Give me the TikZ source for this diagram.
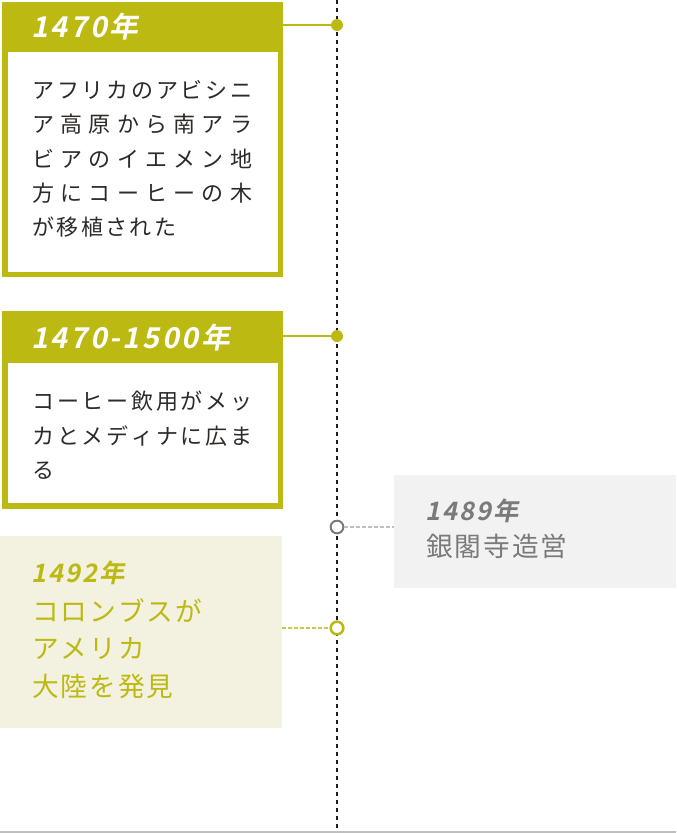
\documentclass[tikz,border=0pt]{standalone}
\usepackage{fontspec}

% Japanese fonts
\newfontfamily\jpfont{Noto Sans CJK JP}
\newfontfamily\jphead[FakeSlant=0.2]{Noto Sans CJK JP Bold}

% Colours
\definecolor{olive}{RGB}{189,185,19}
\definecolor{palefill}{RGB}{243,241,224}
\definecolor{grayfill}{RGB}{242,242,242}
\definecolor{graytext}{RGB}{122,122,122}
\definecolor{ink}{RGB}{45,42,40}
\definecolor{tlinecol}{RGB}{30,30,30}
\definecolor{rulecol}{RGB}{190,190,190}

% Letter spacing between Japanese characters and digits
\newXeTeXintercharclass\jpclass
\newdimen\jpgap
\newcount\jpc
\XeTeXinterchartokenstate=1
\jpc="3041
\loop\XeTeXcharclass\jpc=\jpclass\ifnum\jpc<"30FF\advance\jpc by 1\repeat
\jpc="4E00
\loop\XeTeXcharclass\jpc=\jpclass\ifnum\jpc<"9FFF\advance\jpc by 1\repeat
\jpc=`0
\loop\XeTeXcharclass\jpc=\jpclass\ifnum\jpc<`9\advance\jpc by 1\repeat
\XeTeXcharclass`\-=\jpclass
\XeTeXinterchartoks\jpclass\jpclass={\nobreak\hskip\jpgap plus 3pt\relax}

\tikzset{
  timeline/.style={draw=tlinecol, line width=1.5pt, dash pattern=on 3pt off 3pt},
  bottomrule/.style={draw=rulecol, line width=1.2pt},
  block/.style={anchor=north west, inner sep=0pt, outer sep=0pt},
  headtxt/.style={anchor=west, inner sep=0pt, text=white,
    font=\jphead\fontsize{21.5pt}{25pt}\selectfont\setlength{\jpgap}{2pt}},
  bodytxt/.style={anchor=north west, inner sep=0pt, text=ink, text width=165pt, align=justify,
    font=\jpfont\fontsize{16.5pt}{25.8pt}\selectfont\setlength{\jpgap}{1.8pt}},
  softhead/.style={anchor=west, inner sep=0pt,
    font=\jphead\fontsize{19pt}{25pt}\selectfont\setlength{\jpgap}{1.5pt}},
  softtxt/.style={anchor=north west, inner sep=0pt, align=left,
    font=\jpfont\fontsize{20pt}{28.2pt}\selectfont\setlength{\jpgap}{1.5pt}},
  dotfull/.style={circle, fill=olive, minimum size=9pt, inner sep=0pt},
  dotring/.style={circle, fill=white, minimum size=9.5pt, inner sep=0pt},
  olink/.style={draw=olive, line width=1.5pt},
}

\begin{document}
\begin{tikzpicture}[x=0.75pt,y=-0.75pt]
    \useasboundingbox (0,0) rectangle (676,833);

    % Define the ends of the timeline
    \coordinate (T) at (337,0);
    \coordinate (B) at (337,830);
    \draw[timeline] (T) -- (B);

    % Bottom rule
    \coordinate (L) at (0,832);
    \coordinate (R) at (676,832);
    \draw[bottomrule] (L) -- (R);

    % First event box
    \node[block, fill=olive, minimum width=210.75pt, minimum height=206.25pt] (box1) at (2,2) {};
    \node[block, fill=white, minimum width=202.5pt, minimum height=165pt] (in1) at (8,52) {};
    \node[headtxt] (yr1) at (31,27) {1470年};
    \node[bodytxt] (txt1) at (32,80) {アフリカのアビシニ\linebreak ア高原から南アラ\linebreak
      ビアのイエメン地\linebreak 方にコーヒーの木\linebreak が移植された};

    % Second event box
    \node[block, fill=olive, minimum width=210.75pt, minimum height=148.5pt] (box2) at (2,311) {};
    \node[block, fill=white, minimum width=202.5pt, minimum height=105pt] (in2) at (8,363) {};
    \node[headtxt] (yr2) at (31,338) {1470-1500年};
    \node[bodytxt] (txt2) at (32,391) {コーヒー飲用がメッ\linebreak カとメディナに広ま\linebreak る};

    % Japan side box
    \node[block, fill=grayfill, minimum width=211.5pt, minimum height=84.75pt] (gbox) at (394,475) {};
    \node[softhead, text=graytext] (yr3) at (425,511) {1489年};
    \node[softtxt, text=graytext] (txt3) at (426,534) {銀閣寺造営};

    % Pale event box
    \node[block, fill=palefill, minimum width=211.5pt, minimum height=144pt] (pbox) at (0,536) {};
    \node[softhead, text=olive] (yr4) at (31,573) {1492年};
    \node[softtxt, text=olive] (txt4) at (32,598) {コロンブスが\\アメリカ\\大陸を発見};

    % Points on the timeline
    \node[dotfull] (d1) at (337,25) {};
    \node[dotfull] (d2) at (337,336) {};
    \node[dotring, draw=graytext, line width=1.5pt] (d3) at (337,527) {};
    \node[dotring, draw=olive, line width=1.9pt] (d4) at (337,628) {};

    % Connectors
    \draw[olink] (box1.east |- d1) -- (d1);
    \draw[olink] (box2.east |- d2) -- (d2);
    \draw[draw=rulecol, line width=1pt, dash pattern=on 3pt off 1.5pt] (d3) -- (gbox.west |- d3);
    \draw[draw=olive!80, line width=1pt, dash pattern=on 3pt off 1.5pt] (pbox.east |- d4) -- (d4);

\end{tikzpicture}
\end{document}
